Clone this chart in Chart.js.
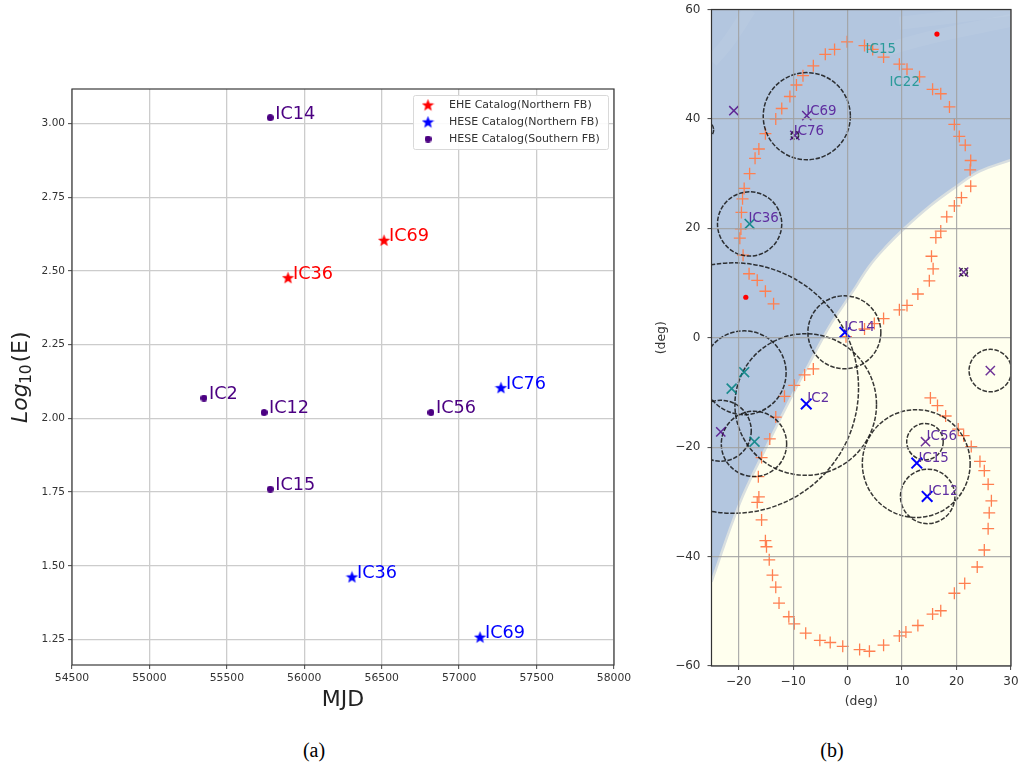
<!DOCTYPE html>
<html>
<head>
<meta charset="utf-8">
<script src="https://cdn.jsdelivr.net/npm/chart.js@4"></script>
<style>
html,body{margin:0;padding:0;background:#fff;width:1019px;height:767px;overflow:hidden}
canvas{position:absolute;display:block;filter:blur(0.35px)}
.cap{position:absolute;font-family:"Liberation Serif",serif;font-size:20px;color:#000;transform:translateX(-50%);line-height:24px}
</style>
</head>
<body>
<div style="position:absolute;left:0;top:0;width:640px;height:725px"><canvas id="left"></canvas></div>
<div style="position:absolute;left:640px;top:0;width:389px;height:725px"><canvas id="right"></canvas></div>
<div class="cap" style="left:314px;top:738px">(a)</div>
<div class="cap" style="left:832px;top:738px">(b)</div>
<script>
// ---------- panel (a) ----------
const mjdTicks = [54500,55000,55500,56000,56500,57000,57500,58000];
const logTicks = [1.25,1.5,1.75,2,2.25,2.5,2.75,3];
const eheNames = ['IC36','IC69'];
const eheMjd = [55895,56515];
const eheLog = [2.477,2.604];
const heseNNames = ['IC76','IC36','IC69'];
const heseNMjd = [57270,56308,57135];
const heseNLog = [2.104,1.462,1.258];
const heseSNames = ['IC14','IC2','IC12','IC56','IC15'];
const heseSMjd = [55780,55352,55740,56818,55780];
const heseSLog = [3.02,2.069,2.02,2.02,1.76];

// ---------- panel (b) ----------
const degXTicks = [-20,-10,0,10,20,30];
const degYTicks = [-60,-40,-20,0,20,40,60];
const plusX = [-0.1,-2.4,-4.1,-6.3,-8.2,-9.4,-10.6,-12.1,-13.2,-15.1,-16.3,-17,-18,-19,-19.3,-19.5,-19.6,-19.8,-19.2,-18.1,-16.6,-15.1,-13.6,
  3.1,4.6,6.6,9.5,10.9,13.2,15.6,17.1,18.7,19.6,20.5,21.6,22.6,22.5,22.6,20.9,19.6,18.2,17.1,16.2,15.4,15.7,15,12.9,10.9,9.5,6.6,4.9,3.1,-0.3,
  -6.3,-7.9,-9.8,-11.6,-13.2,-14.3,-15.8,-16.4,-16.3,-16.6,-15.8,-15.1,-14.9,-14.4,-13.8,-13.2,-12.6,-10.8,-9.8,-7.7,-5.1,-3.2,-0.9,2.2,4,6.6,9.5,10.7,12.9,15.6,17.1,19.6,21.5,23.8,25.1,25.8,26,26.4,25.8,25.1,24.3,22.7,21.3,20.3,18,16.5,15.2];
const plusY = [54.1,52.7,51.8,49.7,47.9,46.2,44.1,41.9,40,37.3,34.5,32.8,30,27.3,25.4,22.9,19.9,18.2,15.1,11.7,10.5,8.5,6.2,
  53.4,52.7,51.3,50,49.1,47.7,45.4,44.6,42.2,39,36.8,35.2,32.4,30.7,27.7,25.6,24.1,22.1,19.5,18.3,14.9,12.6,10.4,8,5.9,5.1,3.5,2.6,1.6,0.2,
  -5.7,-6.8,-8.7,-10.7,-14.5,-18.5,-21.9,-25.4,-29.1,-30.1,-33.3,-37.1,-38.2,-40.6,-43.4,-45.6,-48.5,-51,-52.3,-54,-55.3,-55.7,-56.4,-57,-57.3,-56.2,-54.5,-53.8,-52.6,-50.5,-49.9,-46.7,-44.9,-41.9,-38.8,-34.9,-32,-29.8,-26.8,-24.3,-22.6,-19.9,-17.9,-16.7,-14.3,-12.4,-11];
const blueX = [-0.5,-7.6,12.7,14.6];
const blueY = [1,-12.1,-22.9,-29];
const purpleX = [-20.9,-7.5,-9.7,21.3,26.2,-23.3,14.3];
const purpleY = [41.5,40.6,37,12,-6,-17.2,-19];
const tealX = [-18,-19,-21.3,-17.1];
const tealY = [20.8,-6.3,-9.3,-19];
const redX = [16.4,-18.7];
const redY = [55.5,7.4];
const circleX = [-7.5,-9.7,-18,21.3,-0.6,-19,-21,-7.7,26.2,-23.3,-17.2,14.2,12.6,14.7,-26.2];
const circleY = [40.5,37,20.8,12,1,-6.4,-9.2,-12.2,-6,-17,-19.4,-19,-23,-29,38];
const circleR = [8,0.7,5.9,0.7,6.7,7.7,23,13,3.9,5.6,6,3.35,9.9,5,1.6];
const edgeX = [-25,-19.8,-15.2,-10.6,-7.1,-3.4,-1,1.5,3.9,7,10.1,15,19.9,24.2,30];
const edgeY = [-44.6,-30.2,-20.5,-11.3,-4.8,2,5.6,9.3,13,16.6,19.7,24,27.6,30.4,32.5];
const streakAX = [-25,-22,-18];
const streakAY = [50.5,54,60];
const streakBX = [6.5,15.6,30];
const streakBY = [52.5,55,58];
const streakCX = [9.5,18,30];
const streakCY = [57.5,58.5,60];
const textNames = ['IC15','IC22','IC69','IC76','IC36','IC14','IC2','IC56','IC15','IC12'];
const textX = [3.3,7.7,-7.6,-9.9,-18.2,-0.6,-7.4,14.5,13,14.8];
const textY = [52,46.1,40.7,37,21.1,1.3,-11.8,-18.7,-22.8,-28.7];
const textTeal = [true,true,false,false,false,false,false,false,false,false];

const pts = (xs,ys) => xs.map((x,i)=>({x, y:ys[i]}));
const FONT = '"DejaVu Sans", sans-serif';

function star(color,size){
  const c=document.createElement('canvas'); c.width=c.height=size;
  const g=c.getContext('2d'); const R=size/2, r=R*0.42;
  g.fillStyle=color; g.beginPath();
  for(let i=0;i<10;i++){
    const a=-Math.PI/2+i*Math.PI/5, q=i%2?r:R;
    g.lineTo(R+q*Math.cos(a), R+0.5+q*Math.sin(a));
  }
  g.closePath(); g.fill(); return c;
}
function dot(color,size){
  const c=document.createElement('canvas'); c.width=c.height=size;
  const g=c.getContext('2d'); g.fillStyle=color;
  g.beginPath(); g.arc(size/2,size/2,size/2,0,Math.PI*2); g.fill(); return c;
}

const nameLabels = {
  id:'nameLabels',
  afterDatasetsDraw(chart){
    const c=chart.ctx; c.save();
    c.font='17.7px '+FONT; c.textBaseline='alphabetic'; c.textAlign='left';
    chart.data.datasets.forEach(d=>{
      d.data.forEach((p,i)=>{
        c.fillStyle=d.textColor;
        c.fillText(d.names[i], chart.scales.x.getPixelForValue(p.x)+5, chart.scales.y.getPixelForValue(p.y)+1);
      });
    });
    c.restore();
  }
};
const logTitle = {
  id:'logTitle',
  afterDraw(chart){
    const c=chart.ctx; c.save();
    c.translate(27,423); c.rotate(-Math.PI/2);
    c.fillStyle='#222'; c.textBaseline='alphabetic'; c.textAlign='left';
    c.font='oblique 22px '+FONT; c.fillText('Log',0,0);
    c.font='15.5px '+FONT; c.fillText('10',39,3.5);
    c.font='22px '+FONT; c.fillText('(E)',60.5,0);
    c.restore();
  }
};
const frame = col => ({
  id:'frame',
  afterDraw(chart){
    const a=chart.chartArea,c=chart.ctx; c.save();
    c.strokeStyle=col; c.lineWidth=1.2;
    c.strokeRect(a.left,a.top,a.right-a.left,a.bottom-a.top); c.restore();
  }
});
const placeLegend = {
  id:'placeLegend',
  afterLayout(chart){
    const L=chart.legend;
    L.left=406.5; L.right=608; L.top=93.5; L.bottom=180; L.width=201.5; L.height=86.5;
    if(!L._wrapped){
      const orig=L.draw;
      L.draw=function(a){
        const c=chart.ctx; c.save();
        c.fillStyle='rgba(255,255,255,0.9)'; c.strokeStyle='#d9d9d9'; c.lineWidth=1;
        c.beginPath(); c.roundRect(413.5,95.5,195,54,2); c.fill(); c.stroke(); c.restore();
        orig.call(this,a);
      };
      L._wrapped=true;
    }
  }
};

new Chart(document.getElementById('left'),{
  type:'scatter',
  data:{datasets:[
    {label:'EHE Catalog(Northern FB)',data:pts(eheMjd,eheLog),names:eheNames,textColor:'#ff0000',pointStyle:star('#ff0000',13),pointRadius:6.5},
    {label:'HESE Catalog(Northern FB)',data:pts(heseNMjd,heseNLog),names:heseNNames,textColor:'#0000ff',pointStyle:star('#0000ff',13),pointRadius:6.5},
    {label:'HESE Catalog(Southern FB)',data:pts(heseSMjd,heseSLog),names:heseSNames,textColor:'#4b0082',pointStyle:dot('#4b0082',7),pointRadius:3.5}
  ]},
  plugins:[nameLabels,logTitle,frame('#3a3a3a'),placeLegend],
  options:{
    responsive:true,maintainAspectRatio:false,animation:false,
    layout:{padding:{top:89,right:26,left:0,bottom:0}},
    plugins:{
      tooltip:{enabled:false},
      legend:{position:'chartArea',align:'start',labels:{usePointStyle:true,pointStyleWidth:31,boxHeight:5,padding:6,color:'#333',font:{family:FONT,size:11}}}
    },
    scales:{
      x:{type:'linear',min:54500,max:58000,
        afterBuildTicks:s=>{s.ticks=mjdTicks.map(value=>({value}));},
        afterFit:s=>{s.height=60;},
        grid:{color:'#cccccc',lineWidth:1.3,tickLength:4,tickColor:'#444',tickWidth:1},
        border:{display:false},
        ticks:{autoSkip:false,maxRotation:0,color:'#333',padding:3,font:{family:FONT,size:10.8},callback:v=>String(v)},
        title:{display:true,text:'MJD',color:'#222',font:{family:FONT,size:22},padding:{top:0,bottom:12}}
      },
      y:{type:'linear',min:1.1635,max:3.117,
        afterBuildTicks:s=>{s.ticks=logTicks.map(value=>({value}));},
        afterFit:s=>{s.width=72;},
        grid:{color:'#cccccc',lineWidth:1.3,tickLength:4,tickColor:'#444',tickWidth:1},
        border:{display:false},
        ticks:{autoSkip:false,color:'#333',padding:3,font:{family:FONT,size:10.5},callback:v=>v.toFixed(2)}
      }
    }
  }
});

const minusFmt = v => String(v).replace('-','\u2212');
const setDash = {
  id:'setDash',
  beforeDatasetDraw(chart,args){
    if(chart.data.datasets[args.index].dashed) chart.ctx.setLineDash([4.5,1.6]);
  },
  afterDatasetDraw(chart,args){
    if(chart.data.datasets[args.index].dashed) chart.ctx.setLineDash([]);
  }
};
const skyLabels = {
  id:'skyLabels',
  afterDatasetsDraw(chart){
    const c=chart.ctx; c.save();
    c.font='13.4px '+FONT; c.textBaseline='alphabetic'; c.textAlign='left';
    textNames.forEach((n,i)=>{
      c.fillStyle=textTeal[i]?'#2a9a9a':'#5f2ea0';
      c.fillText(n, chart.scales.x.getPixelForValue(textX[i]), chart.scales.y.getPixelForValue(textY[i]));
    });
    c.restore();
  }
};
const markStyle = (col,r,w) => ({showLine:false,pointStyle:'crossRot',pointRadius:r,pointBorderWidth:w,pointBorderColor:col,pointBackgroundColor:col});
const streak = (xs,ys) => ({data:pts(xs,ys),showLine:true,pointRadius:0,borderColor:'rgba(255,255,255,0.06)',borderWidth:13,tension:0.4,order:8,clip:0});

new Chart(document.getElementById('right'),{
  type:'scatter',
  data:{datasets:[
    {data:pts(edgeX,edgeY),showLine:true,pointRadius:0,tension:0.4,borderColor:'#d9dfe0',borderWidth:2.5,fill:'end',backgroundColor:'#b3c6df',order:10,clip:0},
    {data:pts(edgeX,edgeY),showLine:true,pointRadius:0,tension:0.4,borderWidth:0,fill:'start',backgroundColor:'#ffffee',order:11,clip:0},
    streak(streakAX,streakAY),streak(streakBX,streakBY),streak(streakCX,streakCY),
    {data:pts(plusX,plusY),showLine:false,pointStyle:'cross',pointRadius:6,pointBorderWidth:1.3,pointBorderColor:'#ff7f50',order:5},
    {data:pts(circleX,circleY),showLine:false,dashed:true,clip:0,pointStyle:'circle',pointBackgroundColor:'rgba(0,0,0,0)',pointBorderColor:'rgba(20,20,20,0.85)',pointBorderWidth:1.5,
      pointRadius:c=>{const s=c.chart.scales.x;return circleR[c.dataIndex]*(s.getPixelForValue(1)-s.getPixelForValue(0));},order:4},
    {data:pts(tealX,tealY),...markStyle('rgba(0,128,128,0.85)',7,1.7),order:3},
    {data:pts(purpleX,purpleY),...markStyle('rgba(75,0,130,0.8)',6.5,1.5),order:2},
    {data:pts(blueX,blueY),...markStyle('#0000ff',7.5,2),order:1},
    {data:pts(redX,redY),showLine:false,pointStyle:'circle',pointRadius:2.6,pointBorderWidth:0,pointBackgroundColor:'#ff0000',order:0}
  ]},
  plugins:[setDash,skyLabels,frame('#333333')],
  options:{
    responsive:true,maintainAspectRatio:false,animation:false,
    layout:{padding:{top:9,right:18,left:0,bottom:0}},
    plugins:{legend:{display:false},tooltip:{enabled:false}},
    scales:{
      x:{type:'linear',min:-25,max:30,
        afterBuildTicks:s=>{s.ticks=degXTicks.map(value=>({value}));},
        afterFit:s=>{s.height=59;},
        grid:{color:'rgba(160,160,160,0.85)',lineWidth:1.2,z:1,tickLength:4,tickColor:'#444',tickWidth:1},
        border:{display:false},
        ticks:{autoSkip:false,maxRotation:0,color:'#333',padding:5,font:{family:FONT,size:12},callback:minusFmt},
        title:{display:true,text:'(deg)',color:'#333',font:{family:FONT,size:12.4},padding:{top:0,bottom:16}}
      },
      y:{type:'linear',min:-60,max:60,
        afterBuildTicks:s=>{s.ticks=degYTicks.map(value=>({value}));},
        afterFit:s=>{s.width=71.5;s.paddingTop=0;s.paddingBottom=0;},
        grid:{color:'rgba(160,160,160,0.85)',lineWidth:1.2,z:1,tickLength:4,tickColor:'#444',tickWidth:1},
        border:{display:false},
        ticks:{autoSkip:false,color:'#333',padding:7,font:{family:FONT,size:12},callback:minusFmt},
        title:{display:true,text:'(deg)',color:'#333',font:{family:FONT,size:12.4},padding:{top:14,bottom:0}}
      }
    }
  }
});
</script>
</body>
</html>
